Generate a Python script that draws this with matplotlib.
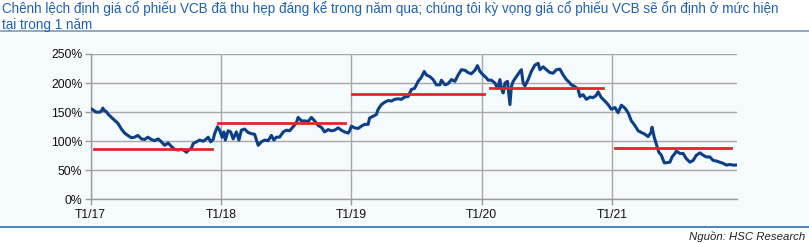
import matplotlib
matplotlib.use("Agg")
import matplotlib.pyplot as plt
from matplotlib.patches import Rectangle
from matplotlib.lines import Line2D
import pandas as pd

plt.rcParams['font.family'] = ['Liberation Sans', 'DejaVu Sans']

title_text = ("Chênh lệch định giá cổ phiếu VCB đã thu hẹp đáng kể trong năm qua; chúng tôi kỳ vọng giá cổ phiếu VCB sẽ ổn định ở mức hiện\n"
              "tại trong 1 năm")
source_text = "Nguồn: HSC Research"

start_date = "2017-01-01"
# days since 2017-01-01
day_offsets = [0, 6, 15, 25, 30, 34, 39, 44, 48, 58, 67, 76, 86, 95, 104, 114, 123, 132, 142, 151,
               160, 170, 179, 189, 198, 207, 217, 226, 235, 245, 254, 263, 268, 273, 282, 287, 296, 305, 315, 324,
               329, 336, 343, 347, 355, 361, 368, 373, 377, 385, 392, 399, 408, 415, 422, 431, 441, 450, 459, 469,
               478, 487, 497, 506, 513, 520, 529, 539, 548, 557, 567, 576, 581, 590, 599, 609, 618, 627, 637, 646,
               655, 665, 674, 683, 693, 702, 711, 721, 725, 730, 739, 749, 758, 767, 777, 781, 791, 800, 805, 814,
               823, 833, 842, 851, 861, 870, 879, 889, 898, 907, 917, 926, 934, 940, 950, 959, 968, 978, 982, 992,
               1001, 1010, 1020, 1029, 1038, 1048, 1057, 1066, 1076, 1083, 1090, 1099, 1108, 1113, 1122, 1132, 1139, 1146, 1150, 1155,
               1160, 1167, 1174, 1178, 1183, 1192, 1202, 1206, 1211, 1216, 1225, 1234, 1244, 1253, 1258, 1267, 1276, 1286, 1295, 1304,
               1314, 1323, 1332, 1339, 1346, 1356, 1365, 1370, 1379, 1388, 1398, 1407, 1416, 1421, 1430, 1440, 1449, 1458, 1468, 1477,
               1486, 1496, 1505, 1514, 1524, 1533, 1542, 1552, 1561, 1569, 1572, 1578, 1584, 1591, 1598, 1606, 1612, 1622, 1628, 1636,
               1640, 1650, 1659, 1668, 1678, 1687, 1696, 1706, 1715, 1724, 1734, 1743, 1752, 1762, 1771, 1780, 1790, 1799, 1808]
valuation_gap = [156, 154, 150, 150, 152, 157, 152, 151, 147, 141, 136, 131, 121, 114, 110, 106, 107, 110, 104, 103,
                 107, 103, 101, 104, 99, 93, 97, 91, 86, 85, 86, 84, 81, 84, 88, 96, 99, 102, 100, 104,
                 107, 99, 103, 113, 125, 119, 107, 116, 102, 118, 116, 104, 116, 102, 119, 121, 115, 113, 112, 93,
                 99, 102, 101, 110, 102, 107, 107, 116, 119, 118, 125, 132, 141, 135, 135, 134, 141, 135, 127, 124,
                 116, 120, 118, 119, 123, 119, 116, 114, 118, 126, 123, 122, 126, 129, 129, 140, 143, 146, 155, 163,
                 167, 170, 169, 172, 173, 172, 176, 177, 189, 191, 203, 210, 220, 214, 211, 206, 197, 197, 205, 197,
                 199, 206, 203, 214, 223, 222, 218, 216, 222, 230, 220, 214, 209, 205, 205, 200, 191, 206, 191, 183,
                 200, 203, 163, 194, 203, 211, 220, 223, 200, 195, 206, 220, 231, 234, 223, 228, 223, 218, 217, 223,
                 224, 214, 206, 202, 197, 194, 189, 177, 180, 172, 176, 175, 179, 185, 175, 169, 163, 155, 158, 149,
                 162, 157, 149, 135, 127, 118, 115, 112, 108, 115, 124, 107, 95, 81, 76, 63, 63, 64, 73, 79,
                 83, 79, 79, 70, 64, 67, 76, 80, 76, 73, 73, 67, 66, 64, 62, 59, 60, 59, 59]

# yearly average valuation gap (red lines)
avg_start_days = [9, 357, 731, 1118, 1469]
avg_end_days = [340, 712, 1100, 1434, 1793]
avg_values = [86, 131, 182, 192, 89]

tick_dates = ["2017-01-01", "2018-01-01", "2019-01-01", "2020-01-01", "2021-01-01"]
tick_labels = ["T1/17", "T1/18", "T1/19", "T1/20", "T1/21"]
y_ticks = [0, 50, 100, 150, 200, 250]

base = pd.Timestamp(start_date)
dates = [base + pd.Timedelta(days=d) for d in day_offsets]

W, H = 809, 243
fig = plt.figure(figsize=(W / 100, H / 100), dpi=100)
fig.patch.set_facecolor("white")

bg = "#F5FAFD"
fig.patches.append(Rectangle((0, 1 - 226 / H), 1, (226 - 32) / H, transform=fig.transFigure,
                             facecolor=bg, edgecolor="none", zorder=-5))
fig.lines.append(Line2D([0, 1], [1 - 31.5 / H, 1 - 31.5 / H], transform=fig.transFigure,
                        color="#7F97B5", lw=1.2, zorder=-4))
fig.lines.append(Line2D([0, 1], [1 - 226.5 / H, 1 - 226.5 / H], transform=fig.transFigure,
                        color="#2F6DB5", lw=1.2, zorder=-4))

fig.text(2 / W, 1 - 1 / H, title_text, ha="left", va="top", fontsize=9.75, color="#1F62AE",
         linespacing=1.22)
fig.text(1 - 4 / W, 1 - 236 / H, source_text, ha="right", va="center", fontsize=8.2,
         style="italic", color="#222222")

ax = fig.add_axes([90.7 / W, 1 - 199.4 / H, (736.7 - 90.7) / W, (199.4 - 54) / H])
ax.set_zorder(5)
ax.set_facecolor(bg)
ax.plot(dates, valuation_gap, color="#0D3F86", lw=2.2, zorder=3, solid_joinstyle="round")
for s, e, v in zip(avg_start_days, avg_end_days, avg_values):
    ax.plot([base + pd.Timedelta(days=s), base + pd.Timedelta(days=e)], [v, v],
            color="#E8222C", lw=2.0, zorder=4)

ax.set_ylim(0, 250)
ax.set_xlim(base, base + pd.Timedelta(days=1809))
ax.set_yticks(y_ticks)
ax.set_yticklabels([f"{v}%" for v in y_ticks])
ax.set_xticks([pd.Timestamp(d) for d in tick_dates])
ax.set_xticklabels(tick_labels)
ax.grid(True, color="#A8A8A8", lw=1.0)
ax.set_axisbelow(True)
for sp in ["top", "right"]:
    ax.spines[sp].set_visible(False)
for sp in ["left", "bottom"]:
    ax.spines[sp].set_color("#9A9A9A")
    ax.spines[sp].set_linewidth(1.0)
ax.tick_params(axis="both", colors="#9A9A9A", length=4, width=1.0, labelsize=8.8,
               labelcolor="#111111")
ax.tick_params(axis="x", pad=3)
ax.tick_params(axis="y", pad=2)

fig.savefig("out.png", dpi=100)
